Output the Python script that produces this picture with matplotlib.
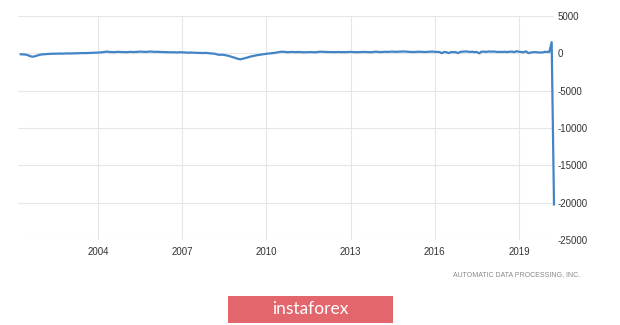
import matplotlib
matplotlib.use("Agg")
import matplotlib.pyplot as plt
import numpy as np
from matplotlib.patches import Rectangle

# ---- data (thousands, monthly) ----
start_year = 2001
start_month = 4
v2001 = [-130, -140, -160, -250, -380, -450, -400, -300, -200]
v2002 = [-150, -120, -100, -80, -60, -60, -50, -40, -30, -40, -20, -10]
v2003 = [-20, -10, 0, 10, 20, 30, 40, 30, 50, 60, 70, 80]
v2004 = [100, 120, 150, 200, 230, 180, 170, 160, 190, 200, 170, 180]
v2005 = [150, 180, 200, 170, 180, 200, 230, 220, 190, 200, 240, 230]
v2006 = [200, 210, 190, 180, 170, 150, 160, 140, 150, 130, 120, 150]
v2007 = [130, 110, 100, 90, 110, 80, 70, 60, 50, 40, 60, 30]
v2008 = [10, -20, -60, -150, -200, -180, -220, -280, -350, -450, -550, -650]
v2009 = [-750, -800, -720, -650, -550, -450, -380, -300, -250, -200, -150, -100]
v2010 = [-60, -30, 0, 40, 80, 150, 200, 220, 180, 150, 170, 190]
v2011 = [160, 170, 180, 160, 140, 150, 160, 170, 150, 140, 180, 220]
v2012 = [200, 190, 180, 170, 150, 160, 170, 180, 160, 170, 150, 180]
v2013 = [190, 170, 160, 150, 170, 180, 190, 170, 160, 150, 200, 220]
v2014 = [180, 170, 190, 210, 190, 220, 230, 200, 210, 220, 240, 250]
v2015 = [220, 200, 190, 170, 200, 220, 200, 190, 180, 200, 210, 240]
v2016 = [200, 190, 180, 20, 180, 150, 30, 170, 160, 150, 40, 200]
v2017 = [230, 250, 240, 180, 220, 160, 190, 0, 220, 230, 190, 250]
v2018 = [230, 240, 220, 180, 200, 180, 210, 170, 220, 230, 170, 280]
v2019 = [210, 170, 140, 270, 30, 100, 150, 170, 130, 120, 110, 200]
v2020 = [200, 190, 1500, -20240]

year_ticks = [2004, 2007, 2010, 2013, 2016, 2019]
y_ticks = [5000, 0, -5000, -10000, -15000, -20000, -25000]
y_labels = ["5000", "0", "-5000", "-10000", "-15000", "-20000", "-25000"]
source = "AUTOMATIC DATA PROCESSING, INC."
brand = "instaforex"

values = np.array(v2001 + v2002 + v2003 + v2004 + v2005 + v2006 + v2007 + v2008 + v2009 +
                  v2010 + v2011 + v2012 + v2013 + v2014 + v2015 + v2016 + v2017 + v2018 +
                  v2019 + v2020, dtype=float)
x = start_year + (start_month - 1) / 12 + np.arange(len(values)) / 12

W, H = 620, 325
fig = plt.figure(figsize=(W / 100, H / 100), dpi=100)
fig.patch.set_facecolor("white")

fam = ["Liberation Sans", "DejaVu Sans"]

ax_l, ax_r, ax_t, ax_b = 18, 554, 16, 240
ax = fig.add_axes([ax_l / W, 1 - ax_b / H, (ax_r - ax_l) / W, (ax_b - ax_t) / H])
ax.plot(x, values, color="#4384c6", lw=1.6, clip_on=False, solid_joinstyle="round", zorder=3)

ax.set_xlim(2001.15, x[-1])
ax.set_ylim(-25000, 5000)
ax.set_xticks(year_ticks)
ax.set_xticklabels([str(y) for y in year_ticks], fontsize=7, color="#333333", family=fam)
ax.set_yticks(y_ticks)
ax.set_yticklabels(y_labels, fontsize=7, color="#333333", family=fam)
ax.yaxis.tick_right()
ax.tick_params(axis="both", length=0)
ax.tick_params(axis="y", pad=2.5)
ax.tick_params(axis="x", pad=5)
ax.grid(True, color="#e6e6e6", lw=0.8)
ax.set_axisbelow(True)
for s in ax.spines.values():
    s.set_visible(False)

fig.text(580 / W, 1 - 275 / H, source, ha="right", va="center", fontsize=5,
         color="#888888", family=fam)

fig.patches.append(Rectangle((228 / W, 1 - 323 / H), (393 - 228) / W, (323 - 296) / H,
                             transform=fig.transFigure, facecolor="#e2666b",
                             edgecolor="none", figure=fig))
fig.text(310 / W, 1 - 309.5 / H, brand, ha="center", va="center", fontsize=12.5,
         color="white", family=["Lato", "DejaVu Sans"])

fig.savefig("out.png", dpi=100, facecolor="white")
